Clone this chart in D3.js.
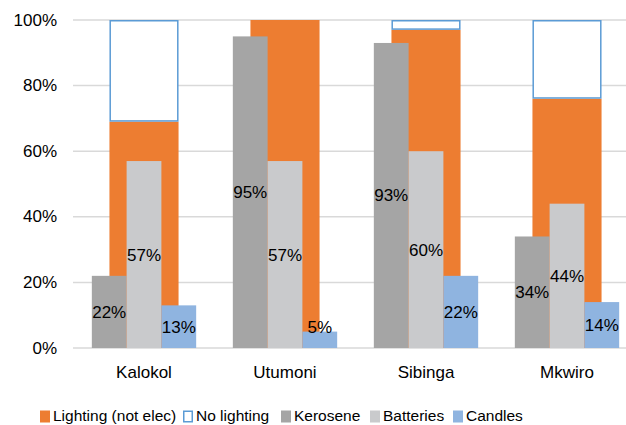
<!DOCTYPE html>
<html>
<head>
<meta charset="utf-8">
<script src="https://cdn.jsdelivr.net/npm/d3@7/dist/d3.min.js"></script>
<style>
  html, body { margin: 0; padding: 0; background: #fff; }
  svg { display: block; font-family: "Liberation Sans", Arial, sans-serif; }
</style>
</head>
<body>
<svg id="chart" width="626" height="425"></svg>
<script>
// Villages surveyed
const categories = ["Kalokol", "Utumoni", "Sibinga", "Mkwiro"];

// Share of households using any non-electric lighting, and the remainder with none
const lighting   = [0.69, 1.00, 0.97, 0.76];
const noLighting = [0.31, 0.00, 0.03, 0.24];

// Share of households using each lighting source
const kerosene  = [0.22, 0.95, 0.93, 0.34];
const batteries = [0.57, 0.57, 0.60, 0.44];
const candles   = [0.13, 0.05, 0.22, 0.14];

const yTicks = [0, 0.2, 0.4, 0.6, 0.8, 1.0];

const sources = [
  { name: "Kerosene",  values: kerosene,  color: "#A5A5A5" },
  { name: "Batteries", values: batteries, color: "#C9CACC" },
  { name: "Candles",   values: candles,   color: "#8FB4E0" }
];

const svg = d3.select("#chart");
const fmt = d3.format(".0%");

const x = d3.scaleBand().domain(categories).range([73.5, 637.5]).padding(0);
const y = d3.scaleLinear().domain([0, 1]).range([348, 20]);

// Inner band for the three source bars within each village
const groupWidth = x.bandwidth() * 0.74;
const xInner = d3.scaleBand()
  .domain(sources.map(s => s.name))
  .range([-groupWidth / 2, groupWidth / 2])
  .padding(0);
const wideWidth = x.bandwidth() * 0.49;

// Gridlines
svg.append("g")
  .selectAll("line")
  .data(yTicks)
  .join("line")
  .attr("x1", 73).attr("x2", 626)
  .attr("y1", d => y(d)).attr("y2", d => y(d))
  .attr("stroke", "#D9D9D9")
  .attr("stroke-width", 1.5);

// Y axis labels
const yAxis = d3.axisLeft(y).tickValues(yTicks).tickFormat(fmt).tickSize(0).tickPadding(0);
const gy = svg.append("g").attr("transform", "translate(57,0)").call(yAxis);
gy.select(".domain").remove();
gy.selectAll("text")
  .attr("font-size", 17)
  .attr("fill", "#000")
  .attr("font-family", "Liberation Sans, Arial, sans-serif")
  .attr("dy", null)
  .attr("y", 5);

// Background stacked bar: lighting vs no lighting
const wide = svg.append("g");
wide.selectAll("rect.light")
  .data(categories)
  .join("rect")
  .attr("class", "light")
  .attr("x", d => x(d) + x.bandwidth() / 2 - wideWidth / 2)
  .attr("width", wideWidth)
  .attr("y", (d, i) => y(lighting[i]))
  .attr("height", (d, i) => y(0) - y(lighting[i]))
  .attr("fill", "#ED7D31");

wide.selectAll("rect.none")
  .data(categories)
  .join("rect")
  .attr("class", "none")
  .filter((d, i) => noLighting[i] > 0)
  .attr("x", d => x(d) + x.bandwidth() / 2 - wideWidth / 2 + 0.75)
  .attr("width", wideWidth - 1.5)
  .attr("y", d => y(lighting[categories.indexOf(d)] + noLighting[categories.indexOf(d)]) + 0.75)
  .attr("height", d => {
    const i = categories.indexOf(d);
    return y(lighting[i]) - y(lighting[i] + noLighting[i]) - 1.5;
  })
  .attr("fill", "#fff")
  .attr("stroke", "#5B9BD5")
  .attr("stroke-width", 1.5);

// Foreground source bars
const fg = svg.append("g");
sources.forEach(s => {
  const g = fg.append("g");
  g.selectAll("rect")
    .data(categories)
    .join("rect")
    .attr("x", d => x(d) + x.bandwidth() / 2 + xInner(s.name))
    .attr("width", xInner.bandwidth())
    .attr("y", (d, i) => y(s.values[i]))
    .attr("height", (d, i) => y(0) - y(s.values[i]))
    .attr("fill", s.color);
});

// Value labels centred in each source bar
sources.forEach(s => {
  fg.append("g")
    .selectAll("text")
    .data(categories)
    .join("text")
    .attr("x", d => x(d) + x.bandwidth() / 2 + xInner(s.name) + xInner.bandwidth() / 2)
    .attr("y", (d, i) => Math.min((y(s.values[i]) + y(0)) / 2, y(0) - 21) + 6)
    .attr("text-anchor", "middle")
    .attr("font-size", 17)
    .attr("fill", "#000")
    .text((d, i) => fmt(s.values[i]));
});

// Category labels
svg.append("g")
  .selectAll("text")
  .data(categories)
  .join("text")
  .attr("x", d => x(d) + x.bandwidth() / 2)
  .attr("y", 378)
  .attr("text-anchor", "middle")
  .attr("font-size", 17)
  .attr("fill", "#000")
  .text(d => d);

// Legend
const legendItems = [
  { name: "Lighting (not elec)", fill: "#ED7D31", stroke: null, x: 40 },
  { name: "No lighting", fill: "#fff", stroke: "#5B9BD5", x: 183 },
  { name: "Kerosene", fill: "#A5A5A5", stroke: null, x: 281 },
  { name: "Batteries", fill: "#C9CACC", stroke: null, x: 370 },
  { name: "Candles", fill: "#8FB4E0", stroke: null, x: 453 }
];
const lg = svg.append("g");
const li = lg.selectAll("g").data(legendItems).join("g")
  .attr("transform", d => `translate(${d.x},0)`);
li.append("rect")
  .attr("x", d => d.stroke ? 0.75 : 0)
  .attr("y", d => d.stroke ? 411.25 : 410.5)
  .attr("width", d => d.stroke ? 8.5 : 10)
  .attr("height", d => d.stroke ? 10.5 : 12)
  .attr("fill", d => d.fill)
  .attr("stroke", d => d.stroke)
  .attr("stroke-width", 1.5);
li.append("text")
  .attr("x", 13)
  .attr("y", 421)
  .attr("font-size", 15.5)
  .attr("fill", "#000")
  .text(d => d.name);
</script>
</body>
</html>
